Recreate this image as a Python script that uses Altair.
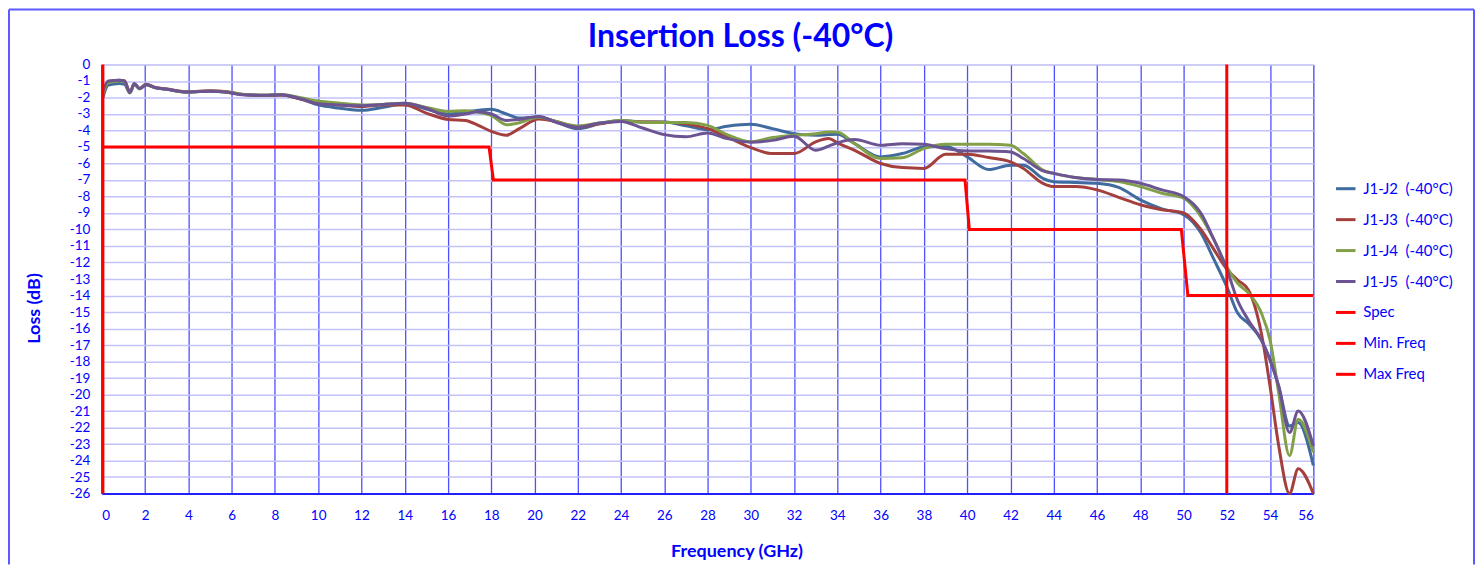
import altair as alt
import pandas as pd

FREQ = [0.05, 0.3, 0.8, 1.05, 1.3, 1.5, 1.75, 2.05, 2.5, 3.0, 3.5, 4.0, 5.0, 5.8, 6.5, 7.5,
        8.3, 9.2, 10, 11, 12, 13, 14, 15, 16, 16.8, 17.4, 18, 18.7, 19.3, 20.2, 21, 22, 23,
        24, 25, 26, 27, 28, 28.9, 30, 31, 32, 33, 33.6, 34, 34.8, 36, 37, 38, 39, 40, 41,
        42, 42.6, 43.5, 44, 45, 46, 47, 48, 49, 50, 50.8, 51.4, 52, 52.5, 53, 53.6, 54,
        54.4, 54.9, 55.3, 56]

J1_J2 = [-2.0, -1.25, -1.15, -1.2, -1.72, -1.2, -1.47, -1.25, -1.42, -1.5, -1.62, -1.67, -1.62,
         -1.68, -1.82, -1.88, -1.85, -2.1, -2.45, -2.65, -2.78, -2.6, -2.38, -2.7, -3.0, -2.88,
         -2.78, -2.72, -3.0, -3.25, -3.18, -3.49, -3.89, -3.6, -3.39, -3.48, -3.49, -3.72, -3.95,
         -3.75, -3.63, -3.89, -4.19, -4.29, -4.25, -4.23, -4.8, -5.6, -5.4, -5.0, -4.95, -5.6,
         -6.37, -6.1, -6.1, -6.9, -7.1, -7.15, -7.2, -7.45, -8.2, -8.75, -9.1, -10.2, -11.8,
         -13.46, -15.06, -15.7, -16.7, -17.9, -19.5, -21.9, -21.7, -24.3]

J1_J3 = [-1.7, -1.05, -0.95, -1.0, -1.7, -1.17, -1.45, -1.2, -1.4, -1.48, -1.6, -1.65, -1.6,
         -1.66, -1.82, -1.88, -1.85, -2.1, -2.35, -2.45, -2.55, -2.45, -2.45, -2.95, -3.33, -3.39,
         -3.69, -4.05, -4.29, -3.89, -3.3, -3.45, -3.8, -3.6, -3.42, -3.48, -3.5, -3.6, -3.89,
         -4.39, -5.04, -5.4, -5.4, -4.69, -4.49, -4.75, -5.2, -6.0, -6.25, -6.3, -5.44, -5.44,
         -5.64, -5.9, -6.3, -7.2, -7.4, -7.4, -7.6, -8.05, -8.5, -8.8, -9.0, -10.0, -11.2,
         -12.4, -13.06, -13.66, -16.3, -19.5, -23.1, -26.0, -24.5, -26.0]

J1_J4 = [-1.8, -1.1, -1.0, -1.05, -1.72, -1.2, -1.47, -1.22, -1.42, -1.5, -1.62, -1.67, -1.62,
         -1.67, -1.8, -1.85, -1.82, -2.02, -2.22, -2.35, -2.45, -2.42, -2.35, -2.6, -2.84, -2.8,
         -2.9, -3.08, -3.65, -3.53, -3.2, -3.45, -3.73, -3.55, -3.4, -3.5, -3.52, -3.52, -3.69,
         -4.25, -4.69, -4.43, -4.29, -4.2, -4.09, -4.1, -4.8, -5.7, -5.65, -5.1, -4.84, -4.84,
         -4.84, -4.9, -5.4, -6.4, -6.6, -6.85, -6.97, -7.1, -7.4, -7.8, -8.1, -9.2, -10.6,
         -12.25, -13.26, -13.85, -15.07, -16.7, -19.9, -23.7, -21.5, -23.5]

J1_J5 = [-1.6, -1.0, -0.95, -1.0, -1.7, -1.17, -1.47, -1.22, -1.41, -1.5, -1.61, -1.67, -1.62,
         -1.68, -1.84, -1.87, -1.84, -2.08, -2.38, -2.45, -2.5, -2.42, -2.35, -2.65, -3.12, -3.0,
         -2.86, -3.0, -3.39, -3.33, -3.15, -3.5, -3.81, -3.55, -3.45, -3.85, -4.25, -4.38, -4.15,
         -4.49, -4.71, -4.6, -4.35, -5.2, -4.95, -4.75, -4.55, -4.9, -4.8, -4.84, -5.1, -5.24,
         -5.25, -5.3, -5.7, -6.45, -6.6, -6.85, -6.97, -7.0, -7.2, -7.6, -8.0, -9.0, -10.6,
         -12.4, -14.3, -15.5, -16.7, -17.9, -19.5, -22.3, -21.0, -23.1]

SPEC_FREQ = [0.05, 17.9, 18.1, 39.9, 40.1, 49.9, 50.2, 56]
SPEC_LOSS = [-5, -5, -7, -7, -10, -10, -14, -14]
MIN_FREQ = 0.05
MAX_FREQ = 52
Y_TOP = 0
Y_BOTTOM = -26

SERIES = ["J1-J2\u00a0 (-40°C)", "J1-J3\u00a0 (-40°C)", "J1-J4\u00a0 (-40°C)",
          "J1-J5\u00a0 (-40°C)", "Spec", "Min. Freq", "Max Freq"]
COLORS = ["#3f6b9e", "#a3403d", "#82a048", "#6b5491", "#ff0000", "#ff0000", "#ff0000"]

rows = []
for name, vals in zip(SERIES[:4], [J1_J2, J1_J3, J1_J4, J1_J5]):
    for f, v in zip(FREQ, vals):
        rows.append({"freq": f, "loss": v, "series": name})
curves = pd.DataFrame(rows)

ref_rows = [{"freq": f, "loss": v, "series": "Spec"} for f, v in zip(SPEC_FREQ, SPEC_LOSS)]
ref_rows += [{"freq": MIN_FREQ, "loss": Y_TOP, "series": "Min. Freq"},
             {"freq": MIN_FREQ, "loss": Y_BOTTOM, "series": "Min. Freq"},
             {"freq": MAX_FREQ, "loss": Y_TOP, "series": "Max Freq"},
             {"freq": MAX_FREQ, "loss": Y_BOTTOM, "series": "Max Freq"}]
refs = pd.DataFrame(ref_rows)

TXT = "#0000ff"
FONT = "Lato"

xenc = alt.X("freq:Q", scale=alt.Scale(domain=[0, 56], nice=False),
             axis=alt.Axis(values=list(range(0, 57, 2)), title="Frequency (GHz)",
                           grid=True, gridColor="#3030ff", gridWidth=1.3, gridOpacity=0.85,
                           ticks=False, domainColor="#2020ff", domainWidth=2,
                           labelColor=TXT, labelFont=FONT, labelFontSize=13.5, labelPadding=15,
                           labelOverlap=False,
                           titleColor=TXT, titleFont=FONT, titleFontSize=18, titleFontWeight="bold",
                           titleX=636, titleY=58, titleBaseline="middle",
                           titleAlign="center"))
yenc = alt.Y("loss:Q", scale=alt.Scale(domain=[Y_BOTTOM, Y_TOP], nice=False),
             axis=alt.Axis(values=list(range(Y_BOTTOM, Y_TOP + 1)), title="Loss (dB)",
                           labelExpr="'' + datum.value", labelOverlap=False,
                           grid=True, gridColor="#c2c2fa", gridWidth=1.5,
                           ticks=False, domainColor="#2020ff", domainWidth=2,
                           labelColor=TXT, labelFont=FONT, labelFontSize=13.5, labelPadding=12,
                           titleColor=TXT, titleFont=FONT, titleFontSize=18, titleFontWeight="bold",
                           titleX=-67, titleY=244, titleBaseline="middle", titleAlign="center",
                           titleAngle=270))

color = alt.Color("series:N", scale=alt.Scale(domain=SERIES, range=COLORS),
                  legend=alt.Legend(title=None, orient="none", legendX=1235, legendY=113,
                                    symbolType="stroke", symbolStrokeWidth=3, symbolSize=380,
                                    labelColor=TXT, labelFont=FONT, labelFontSize=15,
                                    labelOffset=6, rowPadding=11, labelLimit=300))

curve_layer = alt.Chart(curves).mark_line(strokeWidth=3, interpolate="monotone").encode(
    x=xenc, y=yenc, color=color, detail="series:N")
ref_layer = alt.Chart(refs).mark_line(strokeWidth=3).encode(
    x=xenc, y=yenc, color=color, detail="series:N")

one = pd.DataFrame({"a": [0]})
FRAME = "#5a5aff"
left = alt.Chart(one).mark_rule(color=FRAME, strokeWidth=2).encode(
    x=alt.value(-93), y=alt.value(-55), y2=alt.value(501))
right = alt.Chart(one).mark_rule(color=FRAME, strokeWidth=2).encode(
    x=alt.value(1375), y=alt.value(-55), y2=alt.value(501))
top = alt.Chart(one).mark_rule(color=FRAME, strokeWidth=2).encode(
    x=alt.value(-93), x2=alt.value(1375), y=alt.value(-55))

title = alt.Chart(pd.DataFrame({"t": ["Insertion Loss (-40°C)"]})).mark_text(
    font=FONT, fontSize=32, fontWeight="bold", color=TXT, align="center", baseline="middle"
).encode(x=alt.value(640), y=alt.value(-27), text="t:N")

chart = alt.layer(curve_layer, ref_layer, left, right, top, title).properties(
    width=1214, height=430, padding=0
).configure_view(stroke=None).configure_axis(labelOverlap=False).configure(background="white")

chart.save("out.html", embed_options={"renderer": "svg", "actions": False})
